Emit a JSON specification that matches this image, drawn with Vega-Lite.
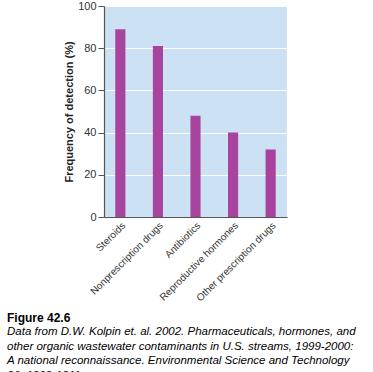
{
  "$schema": "https://vega.github.io/schema/vega-lite/v6.json",
  "autosize": {"type": "none"},
  "padding": {"left": 104, "top": 6, "right": 86, "bottom": 155},
  "width": 183,
  "height": 211,
  "background": "white",
  "data": {"values": [
    {"category": "Steroids", "frequency": 89},
    {"category": "Nonprescription drugs", "frequency": 81},
    {"category": "Antibiotics", "frequency": 48},
    {"category": "Reproductive hormones", "frequency": 40},
    {"category": "Other prescription drugs", "frequency": 32}
  ]},
  "title": {
    "text": "Figure 42.6",
    "subtitle": [
      "Data from D.W. Kolpin et. al. 2002. Pharmaceuticals, hormones, and",
      "other organic wastewater contaminants in U.S. streams, 1999-2000:",
      "A national reconnaissance. Environmental Science and Technology",
      "36: 1202-1211"
    ],
    "orient": "bottom",
    "anchor": "start",
    "frame": "group",
    "dx": -97,
    "offset": 10,
    "font": "Liberation Sans",
    "fontSize": 12,
    "fontWeight": "bold",
    "color": "#000000",
    "subtitleFont": "Liberation Sans",
    "subtitleFontSize": 11.5,
    "subtitleFontStyle": "italic",
    "subtitleColor": "#000000",
    "subtitleLineHeight": 14.7,
    "subtitlePadding": 1
  },
  "mark": {"type": "bar", "color": "#a8449e"},
  "encoding": {
    "x": {
      "field": "category",
      "type": "nominal",
      "sort": null,
      "title": null,
      "scale": {"paddingInner": 0.73, "paddingOuter": 0.3},
      "axis": {
        "labelAngle": -45,
        "labelFont": "Liberation Sans",
        "labelFontSize": 10,
        "labelColor": "#333333",
        "labelPadding": 3,
        "ticks": false,
        "domainColor": "#555555",
        "domainWidth": 1.2
      }
    },
    "y": {
      "field": "frequency",
      "type": "quantitative",
      "title": "Frequency of detection (%)",
      "scale": {"domain": [0, 100]},
      "axis": {
        "values": [0, 20, 40, 60, 80, 100],
        "labelFont": "Liberation Sans",
        "labelFontSize": 11,
        "labelColor": "#333333",
        "labelPadding": 2,
        "tickSize": 6,
        "tickColor": "#555555",
        "domainColor": "#555555",
        "domainWidth": 1.2,
        "grid": true,
        "gridColor": "#ffffff",
        "gridWidth": 1.2,
        "titleFont": "Liberation Sans",
        "titleFontSize": 11,
        "titleFontWeight": "bold",
        "titleColor": "#222222",
        "titlePadding": 3
      }
    }
  },
  "config": {
    "view": {"fill": "#cde1f4", "stroke": null}
  }
}
